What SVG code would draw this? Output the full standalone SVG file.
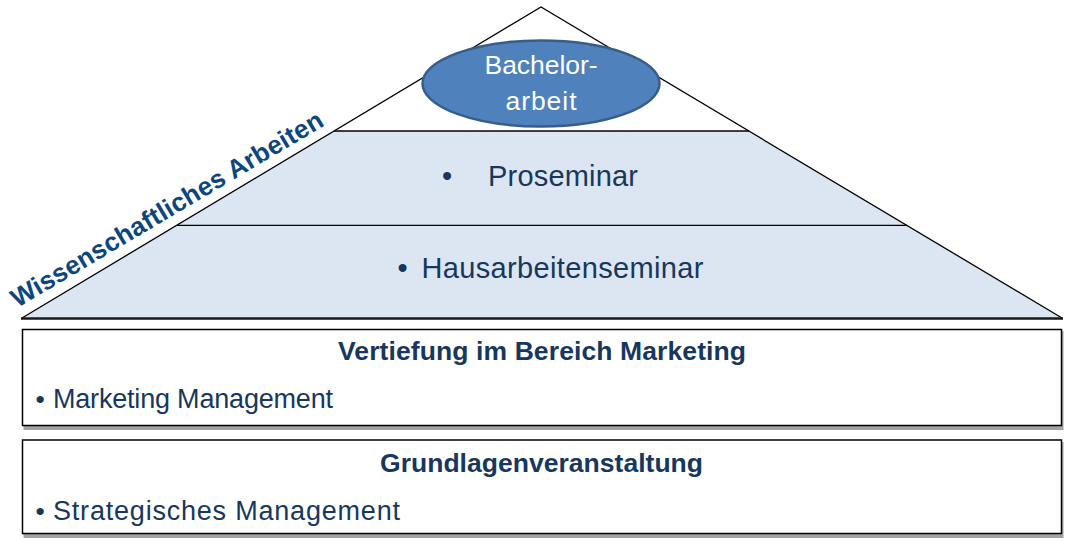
<svg xmlns="http://www.w3.org/2000/svg" width="1076" height="547" viewBox="0 0 1076 547">
<style>
.t{font-family:"Liberation Sans",Arial,sans-serif;fill:#17375E}
.b{font-weight:bold}
.line{stroke:#000;stroke-width:1.3;fill:none}
.box{fill:#fff;stroke:#000;stroke-width:1.5}
.shadow{fill:#A3A3A3}
</style>
<rect width="1076" height="547" fill="#fff"/>
<g id="pyramid">
<polygon points="541,7 22,318 1062,318" fill="#fff"/>
<polygon points="334,131 749,131 1062,318 22,318" fill="#DCE6F2"/>
<line class="line" x1="334" y1="131" x2="749" y2="131"/>
<line class="line" x1="177" y1="225.3" x2="907" y2="225.3"/>
<polyline class="line" points="22,318 541,7 1062,318"/>
<line x1="21" y1="318.5" x2="1063" y2="318.5" stroke="#1a1a1a" stroke-width="2.6"/>
</g>
<g id="bachelor">
<ellipse cx="541" cy="83.5" rx="118.5" ry="43" fill="#4F81BD" stroke="#385D8A" stroke-width="2.5"/>
<text x="541" y="74" text-anchor="middle" font-family="Liberation Sans,Arial,sans-serif" font-size="26.5" fill="#fff" textLength="113">Bachelor-</text>
<text x="541" y="110" text-anchor="middle" font-family="Liberation Sans,Arial,sans-serif" font-size="26.5" fill="#fff" textLength="71">arbeit</text>
</g>
<g id="proseminar">
<text class="t" x="442" y="186" font-size="29">•</text>
<text class="t" x="488" y="186" font-size="29" textLength="150">Proseminar</text>
</g>
<g id="hausarbeitenseminar">
<text class="t" x="397.5" y="278" font-size="29">•</text>
<text class="t" x="421.5" y="278" font-size="29" textLength="282">Hausarbeitenseminar</text>
</g>
<g id="wissenschaftliches">
<text class="t b" x="0" y="0" font-size="26" style="fill:#0B4680" textLength="358" transform="translate(17.5,308) rotate(-30.7)">Wissenschaftliches Arbeiten</text>
</g>
<g id="vertiefung">
<rect class="shadow" x="23.5" y="331" width="1040" height="99"/>
<rect class="box" x="22.5" y="329.5" width="1039" height="96"/>
<text class="t b" x="542" y="360" font-size="26.5" text-anchor="middle" textLength="408">Vertiefung im Bereich Marketing</text>
<text class="t" x="35.5" y="408" font-size="26.5">•</text>
<text class="t" x="53" y="408" font-size="27" textLength="280">Marketing Management</text>
</g>
<g id="grundlagen">
<rect class="shadow" x="23.5" y="442" width="1040" height="96"/>
<rect class="box" x="22.5" y="440" width="1039" height="93.5"/>
<text class="t b" x="541.5" y="472" font-size="26.5" text-anchor="middle" textLength="323">Grundlagenveranstaltung</text>
<text class="t" x="35.5" y="520" font-size="26.5">•</text>
<text class="t" x="53" y="520" font-size="27" textLength="347">Strategisches Management</text>
</g>
<g id="connectors"/>
</svg>
